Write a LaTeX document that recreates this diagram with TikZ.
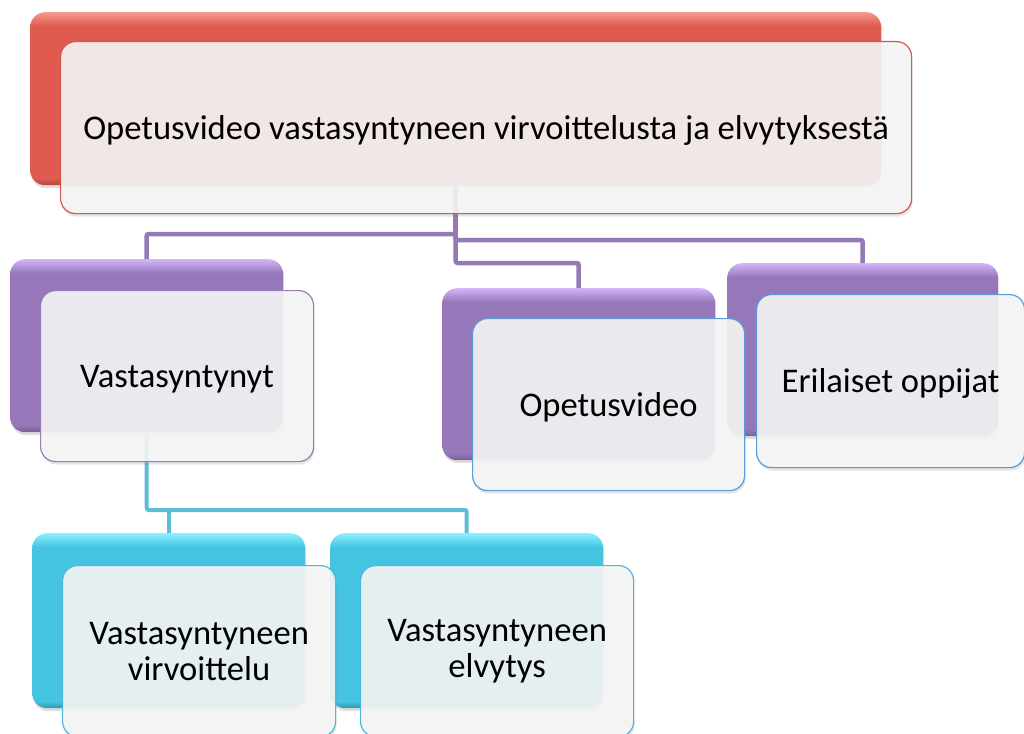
\documentclass[tikz,border=0pt]{standalone}
\usepackage{fontspec}
\setmainfont{Carlito}
\usetikzlibrary{shadows}
\definecolor{redM}{HTML}{DF5A4F}
\definecolor{redT}{HTML}{F5998E}
\definecolor{redL}{HTML}{D4574E}
\definecolor{purM}{HTML}{9577BA}
\definecolor{purT}{HTML}{D4B6F8}
\definecolor{purL}{HTML}{9A7DBB}
\definecolor{purC}{HTML}{9479B5}
\definecolor{cyaM}{HTML}{45C4E2}
\definecolor{cyaT}{HTML}{8AF0FF}
\definecolor{cyaL}{HTML}{4DB9D9}
\definecolor{cyaC}{HTML}{5BBDD6}
\definecolor{bluL}{HTML}{5B9BD5}
\definecolor{frontF}{HTML}{F6F6F6}
\pgfdeclareverticalshading{redsh}{100bp}{color(0bp)=(redM!80!black); color(25bp)=(redM!80!black); color(27bp)=(redM); color(71bp)=(redM); color(75bp)=(redT); color(100bp)=(redT)}
\pgfdeclareverticalshading{pursh}{100bp}{color(0bp)=(purM!80!black); color(25bp)=(purM!80!black); color(27bp)=(purM); color(71bp)=(purM); color(75bp)=(purT); color(100bp)=(purT)}
\pgfdeclareverticalshading{cyash}{100bp}{color(0bp)=(cyaM!75!black); color(25bp)=(cyaM!75!black); color(27bp)=(cyaM); color(71bp)=(cyaM); color(75bp)=(cyaT); color(100bp)=(cyaT)}
\begin{document}
\begin{tikzpicture}[x=1pt,y=-1pt,
  backbox/.style={anchor=north west, rounded corners=15pt, inner sep=0pt,
    minimum width=273pt, minimum height=173pt,
    drop shadow={shadow xshift=1pt, shadow yshift=-3pt, opacity=0.25}},
  redback/.style={backbox, shading=redsh},
  purback/.style={backbox, shading=pursh},
  cyaback/.style={backbox, shading=cyash},
  frontbox/.style={anchor=north west, rounded corners=15pt, inner sep=0pt,
    minimum width=273pt, minimum height=171pt, fill=frontF, fill opacity=0.9,
    text opacity=1, line width=1.2pt, align=center,
    font=\fontsize{34.6}{36}\selectfont,
    drop shadow={shadow xshift=1pt, shadow yshift=-3pt, opacity=0.2}},
  oneline/.style={text height=31pt, text depth=8pt},
  pline/.style={draw=purC, line width=4.5pt, rounded corners=2pt},
  cline/.style={draw=cyaC, line width=4pt, rounded corners=2pt}
]
\useasboundingbox (0,0) rectangle (1024,733);
\clip (0,0) rectangle (1024,733);
\fill[white] (0,0) rectangle (1024,733);

% back boxes
\node[redback, minimum width=851pt] (redB) at (30,12) {};
\node[purback] (vB) at (10,259) {};
\node[purback, minimum height=172pt] (oB) at (442,288) {};
\node[purback, minimum width=271pt] (eB) at (727,263) {};
\node[cyaback, minimum height=175pt] (c1B) at (32,533) {};
\node[cyaback, minimum height=175pt] (c2B) at (330,533) {};

% connectors
\coordinate (hL) at (0,234);
\coordinate (hR) at (0,240);
\coordinate (hS) at (0,263);
\coordinate (hC) at (0,510);
\draw[pline] (redB.south) |- (vB.north |- hL) -- (vB.north);
\draw[pline] (redB.south) |- (eB.north |- hR) -- (eB.north);
\draw[pline] (redB.south) |- (oB.north |- hS) -- (oB.north);
\draw[cline] (vB.south) |- (c2B.north |- hC) -- (c2B.north);
\draw[cline] (c1B.north |- hC) -- (c1B.north);

% front boxes
\node[frontbox, oneline, draw=redL, minimum width=851pt, minimum height=172pt] (redF) at (60,41)
  {Opetusvideo vastasyntyneen virvoittelusta ja elvytyksestä};
\node[frontbox, oneline, draw=purL] (vF) at (40,290) {Vastasyntynyt};
\node[frontbox, oneline, draw=bluL, minimum width=272pt, minimum height=172pt] (oF) at (472,318) {Opetusvideo};
\node[frontbox, oneline, draw=bluL, minimum width=268pt, minimum height=173pt] (eF) at (756,294) {Erilaiset oppijat};
\node[frontbox, draw=cyaL] (c1F) at (62,565) {Vastasyntyneen\\virvoittelu};
\node[frontbox, draw=cyaL] (c2F) at (360,565) {Vastasyntyneen\\elvytys};
\end{tikzpicture}
\end{document}
